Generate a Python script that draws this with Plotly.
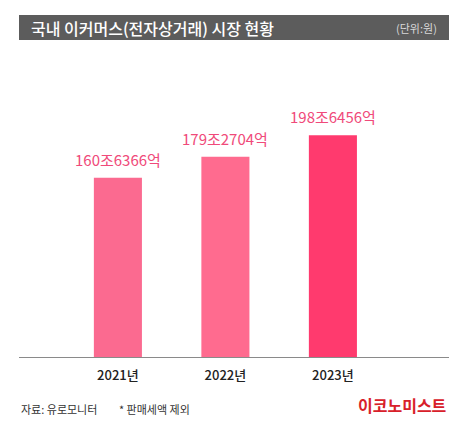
import plotly.graph_objects as go

years = ["2021년", "2022년", "2023년"]
values = [160.6366, 179.2704, 198.6456]
value_labels = ["160조6366억", "179조2704억", "198조6456억"]
bar_colors = ["#fb6a90", "#ff6b8f", "#ff3a6e"]

font = "Noto Sans CJK KR"

fig = go.Figure()
fig.add_trace(go.Bar(x=years, y=values, marker=dict(color=bar_colors, line=dict(width=0)),
                     width=0.447, hoverinfo="skip"))

# value labels above the bars
for yr, v, lab in zip(years, values, value_labels):
    fig.add_annotation(x=yr, y=v, text=lab, showarrow=False, yanchor="bottom", yshift=6,
                       font=dict(family=font, size=15, color="#f04a7a"))

# title bar
fig.add_shape(type="rect", xref="paper", yref="paper", x0=0, x1=1, y0=1.0673, y1=1.1515,
              fillcolor="#5c5c5c", line=dict(width=0), layer="below")
fig.add_annotation(xref="paper", yref="paper", x=0.023, y=1.109, xanchor="left", yanchor="middle",
                   text="국내 이커머스(전자상거래) 시장 현황", showarrow=False,
                   font=dict(family=font, size=16, color="white", weight=500))
fig.add_annotation(xref="paper", yref="paper", x=0.976, y=1.109, xanchor="right", yanchor="middle",
                   text="(단위:원)", showarrow=False,
                   font=dict(family=font, size=11, color="#d8d8d8"))

# footer
fig.add_annotation(xref="paper", yref="paper", x=0, y=-0.175, xanchor="left", yanchor="middle",
                   text="자료: 유로모니터", showarrow=False,
                   font=dict(family=font, size=11, color="#333333"))
fig.add_annotation(xref="paper", yref="paper", x=0.228, y=-0.175, xanchor="left", yanchor="middle",
                   text="* 판매세액 제외", showarrow=False,
                   font=dict(family=font, size=11, color="#333333"))
fig.add_annotation(xref="paper", yref="paper", x=1, y=-0.163, xanchor="right", yanchor="middle",
                   text="<b>이코노미스트</b>", showarrow=False,
                   font=dict(family=font, size=16, color="#d8202a"))

# page body has an 8px margin, so the figure is sized to fit inside the window
fig.update_layout(
    width=452, height=409,
    margin=dict(l=11, r=11, t=52, b=60),
    paper_bgcolor="white", plot_bgcolor="white",
    showlegend=False,
    xaxis=dict(range=[-0.92, 3.08], showline=True, linecolor="#8a8a8a", linewidth=1,
               showgrid=False, ticks="", ticklabelstandoff=6,
               tickfont=dict(family=font, size=13, color="#222222", weight=500)),
    yaxis=dict(range=[0, 266], visible=False, showgrid=False, zeroline=False),
)

fig.write_html("out.html")
